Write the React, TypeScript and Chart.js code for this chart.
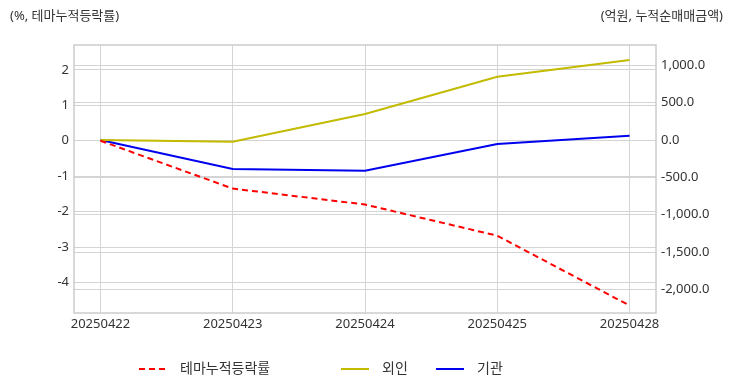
import React, { useEffect, useRef } from 'react';
import { Chart, registerables } from 'chart.js';

Chart.register(...registerables);

const categories = ['20250422', '20250423', '20250424', '20250425', '20250428'];
const themeReturn = [0, -1.35, -1.8, -2.68, -4.65];
const foreignNet = [0, -23, 348, 847, 1071];
const institutionNet = [0, -388, -411, -54, 58];
const leftTicks = [-4, -3, -2, -1, 0, 1, 2];
const rightTicks = [-2000, -1500, -1000, -500, 0, 500, 1000];
const seriesNames = ['테마누적등락률', '외인', '기관'];
const leftTitle = '(%, 테마누적등락률)';
const rightTitle = '(억원, 누적순매매금액)';

const FONT = "'Noto Sans', 'Noto Sans CJK KR', sans-serif";
const TEXT = '#333333';
const GRID = '#d4d4d4';
const COLORS = ['#ff0000', '#c2bb00', '#0000ee'];

const overlayPlugin = {
  id: 'overlay',
  beforeDatasetsDraw(chart: any) {
    const { ctx, chartArea } = chart;
    ctx.save();
    ctx.strokeStyle = '#cccccc';
    ctx.lineWidth = 1.5;
    ctx.strokeRect(chartArea.left, chartArea.top, chartArea.right - chartArea.left, chartArea.bottom - chartArea.top);
    ctx.restore();
  },
  afterDraw(chart: any) {
    const { ctx, width } = chart;
    ctx.save();
    ctx.font = `13px ${FONT}`;
    ctx.fillStyle = TEXT;
    ctx.textBaseline = 'middle';
    ctx.textAlign = 'left';
    ctx.fillText(leftTitle, 10, 16);
    ctx.textAlign = 'right';
    ctx.fillText(rightTitle, width - 9, 16);

    // legend
    const starts = [139, 341, 436];
    const y = 369;
    chart.data.datasets.forEach((ds: any, i: number) => {
      const x = starts[i];
      ctx.save();
      ctx.strokeStyle = ds.borderColor;
      ctx.lineWidth = 2;
      ctx.setLineDash(ds.borderDash || []);
      ctx.beginPath();
      ctx.moveTo(x, y);
      ctx.lineTo(x + 28, y);
      ctx.stroke();
      ctx.restore();
      ctx.textAlign = 'left';
      ctx.font = `14px ${FONT}`;
      ctx.fillText(ds.label, x + 41, y);
    });
    ctx.restore();
  },
};

export default function App() {
  const ref = useRef<HTMLCanvasElement | null>(null);

  useEffect(() => {
    document.body.style.margin = '0';
    if (!ref.current) return;
    const mk = (vals: number[]) => vals.map((v, i) => ({ x: i, y: v }));
    const chart = new Chart(ref.current, {
      type: 'line',
      data: {
        datasets: [
          {
            label: seriesNames[0],
            data: mk(themeReturn),
            borderColor: COLORS[0],
            backgroundColor: COLORS[0],
            borderDash: [6, 4],
            borderWidth: 2,
            pointRadius: 0,
            yAxisID: 'y',
            tension: 0,
          },
          {
            label: seriesNames[1],
            data: mk(foreignNet),
            borderColor: COLORS[1],
            backgroundColor: COLORS[1],
            borderWidth: 2,
            pointRadius: 0,
            yAxisID: 'y1',
            tension: 0,
          },
          {
            label: seriesNames[2],
            data: mk(institutionNet),
            borderColor: COLORS[2],
            backgroundColor: COLORS[2],
            borderWidth: 2,
            pointRadius: 0,
            yAxisID: 'y1',
            tension: 0,
          },
        ],
      },
      options: {
        animation: false,
        responsive: false,
        maintainAspectRatio: false,
        layout: { padding: { top: 45, left: 0, right: 0, bottom: 0 } },
        plugins: {
          legend: { display: false },
          tooltip: { enabled: false },
        },
        scales: {
          x: {
            type: 'linear',
            min: -0.2,
            max: 4.2,
            afterBuildTicks: (s: any) => {
              s.ticks = categories.map((_, i) => ({ value: i }));
            },
            afterFit: (s: any) => {
              s.height = 79;
            },
            grid: { color: GRID, drawTicks: false, lineWidth: 1 },
            border: { display: false },
            ticks: {
              padding: 3,
              maxRotation: 0,
              autoSkip: false,
              color: TEXT,
              font: { family: FONT, size: 13 },
              callback: (v: any) => categories[Math.round(Number(v))] ?? '',
            },
          },
          y: {
            type: 'linear',
            position: 'left',
            min: -4.86,
            max: 2.7,
            afterBuildTicks: (s: any) => {
              s.ticks = leftTicks.map((v) => ({ value: v }));
            },
            afterFit: (s: any) => {
              s.width = 74;
            },
            grid: { color: GRID, drawTicks: false },
            border: { display: false },
            ticks: {
              padding: 5,
              color: TEXT,
              font: { family: FONT, size: 13 },
              callback: (v: any) => String(v),
            },
          },
          y1: {
            type: 'linear',
            position: 'right',
            min: -2316,
            max: 1272,
            afterBuildTicks: (s: any) => {
              s.ticks = rightTicks.map((v) => ({ value: v }));
            },
            afterFit: (s: any) => {
              s.width = 76;
            },
            grid: { color: GRID, drawTicks: false },
            border: { display: false },
            ticks: {
              padding: 5,
              color: TEXT,
              font: { family: FONT, size: 13 },
              callback: (v: any) =>
                Number(v).toLocaleString('en-US', { minimumFractionDigits: 1, maximumFractionDigits: 1 }),
            },
          },
        },
      },
      plugins: [overlayPlugin],
    } as any);
    return () => chart.destroy();
  }, []);

  return (
    <div style={{ width: 732, height: 392 }}>
      <canvas ref={ref} width={732} height={392} style={{ width: 732, height: 392, display: 'block' }} />
    </div>
  );
}
